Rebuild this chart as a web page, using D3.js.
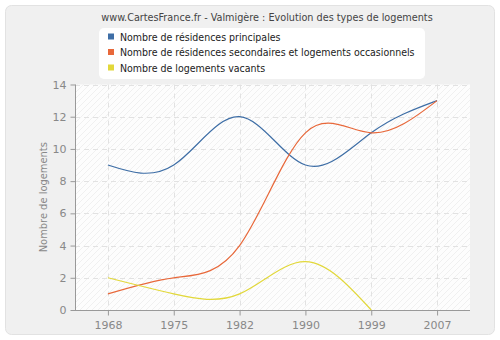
<!DOCTYPE html>
<html>
<head>
<meta charset="utf-8">
<script src="https://cdn.jsdelivr.net/npm/d3@7"></script>
<style>
  html, body { margin: 0; padding: 0; background: #ffffff; }
  svg { display: block; }
</style>
</head>
<body>
<svg id="chart" width="500" height="340"></svg>
<script>
// Census years and housing counts for Valmigère
const years = ["1968", "1975", "1982", "1990", "1999", "2007"];
const principales = [9, 9, 12, 9, 11, 13];
const secondaires = [1, 2, 4, 11, 11, 13];
const vacants = [2, 1, 1, 3, 0, null];
const yTicks = [0, 2, 4, 6, 8, 10, 12, 14];

const seriesNames = [
  "Nombre de résidences principales",
  "Nombre de résidences secondaires et logements occasionnels",
  "Nombre de logements vacants"
];
const seriesColors = ["#3e6ea6", "#e8683a", "#e2d83a"];
const seriesValues = [principales, secondaires, vacants];

const svg = d3.select("#chart");
const font = "'DejaVu Sans', Verdana, sans-serif";
const narrowFont = "'DejaVu Sans Condensed', 'DejaVu Sans', sans-serif";

// Hatched pattern for the plotting area
const defs = svg.append("defs");
const pat = defs.append("pattern")
  .attr("id", "hatch")
  .attr("patternUnits", "userSpaceOnUse")
  .attr("width", 6).attr("height", 6);
pat.append("rect").attr("width", 6).attr("height", 6).attr("fill", "#fdfdfd");
pat.append("path").attr("d", "M-1,7 L7,-1 M-1,1 L1,-1 M5,7 L7,5")
  .attr("stroke", "#f0f0f0").attr("stroke-width", 1);

// Outer panel
svg.append("rect")
  .attr("x", 5.5).attr("y", 5.5).attr("width", 489).attr("height", 329)
  .attr("rx", 6).attr("ry", 6)
  .attr("fill", "#f0f0f0").attr("stroke", "#e2e2e2");

const x = d3.scalePoint().domain(years).range([75, 470]).padding(0.5);
const y = d3.scaleLinear().domain([0, 14]).range([310, 84.5]);

// Plot background
svg.append("rect")
  .attr("x", 75).attr("y", y(14))
  .attr("width", 395).attr("height", y(0) - y(14))
  .attr("fill", "url(#hatch)");

// Grid lines
const grid = svg.append("g");
grid.selectAll("line.h").data(yTicks.slice(1)).join("line")
  .attr("x1", 75).attr("x2", 470)
  .attr("y1", d => Math.round(y(d)) + 0.5).attr("y2", d => Math.round(y(d)) + 0.5)
  .attr("stroke", "#e2e2e2").attr("stroke-dasharray", "5,4");
grid.selectAll("line.v").data(years).join("line")
  .attr("x1", d => Math.round(x(d)) + 0.5).attr("x2", d => Math.round(x(d)) + 0.5)
  .attr("y1", y(14)).attr("y2", y(0))
  .attr("stroke", "#e2e2e2").attr("stroke-dasharray", "5,4");

// Axes
const yAxis = svg.append("g")
  .attr("transform", "translate(75.5,0)")
  .call(d3.axisLeft(y).tickValues(yTicks).tickSize(5).tickPadding(4));
const xAxis = svg.append("g")
  .attr("transform", `translate(0,${Math.round(y(0)) + 0.5})`)
  .call(d3.axisBottom(x).tickSize(5).tickPadding(6));
[yAxis, xAxis].forEach(g => {
  g.select(".domain").attr("stroke", "#999999");
  g.selectAll(".tick line").attr("stroke", "#999999");
  g.selectAll(".tick text").attr("fill", "#888888")
    .style("font-family", font).style("font-size", "11px");
});
xAxis.select(".domain").attr("d", "M75,0H470");
yAxis.select(".domain").attr("d", `M0,${y(14)}V${y(0)}`);

// Y axis title
svg.append("text")
  .attr("transform", `translate(47,${(y(0) + y(14)) / 2}) rotate(-90)`)
  .attr("text-anchor", "middle")
  .attr("fill", "#888888")
  .style("font-family", narrowFont).style("font-size", "11px")
  .text("Nombre de logements");

// Series lines (natural cubic spline)
const line = d3.line()
  .defined(d => d.v !== null)
  .x(d => x(d.year))
  .y(d => y(d.v))
  .curve(d3.curveNatural);

seriesValues.forEach((vals, i) => {
  const pts = years.map((yr, j) => ({ year: yr, v: vals[j] })).filter(d => d.v !== null);
  svg.append("path")
    .datum(pts)
    .attr("d", line)
    .attr("fill", "none")
    .attr("stroke", seriesColors[i])
    .attr("stroke-width", 1.2);
});

// Title
svg.append("text")
  .attr("x", 267).attr("y", 21)
  .attr("text-anchor", "middle")
  .attr("fill", "#444444")
  .style("font-family", narrowFont).style("font-size", "10.75px")
  .text("www.CartesFrance.fr - Valmigère : Evolution des types de logements");

// Legend
const legend = svg.append("g");
legend.append("rect")
  .attr("x", 99).attr("y", 28).attr("width", 326).attr("height", 51)
  .attr("rx", 5).attr("ry", 5)
  .attr("fill", "#ffffff");
seriesNames.forEach((name, i) => {
  const cy = 36.5 + i * 15.5;
  legend.append("rect")
    .attr("x", 108).attr("y", cy - 3).attr("width", 6).attr("height", 6)
    .attr("fill", seriesColors[i]);
  legend.append("text")
    .attr("x", 120).attr("y", cy + 4)
    .attr("fill", "#222222")
    .style("font-family", narrowFont).style("font-size", "10.5px")
    .text(name);
});
</script>
</body>
</html>
